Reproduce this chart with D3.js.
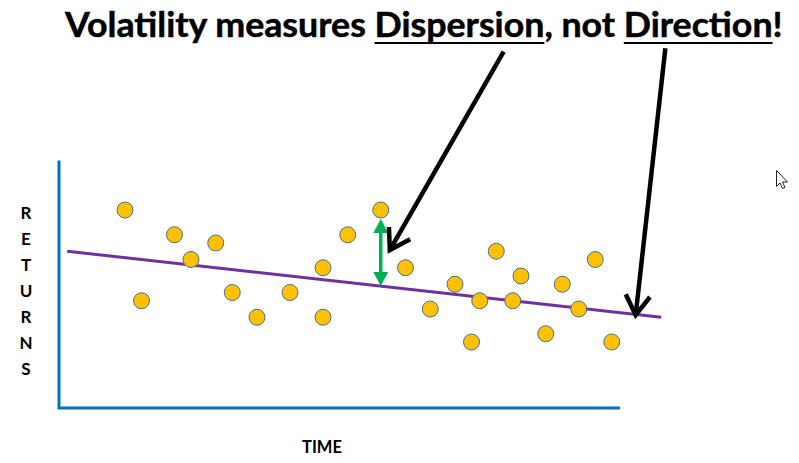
<!DOCTYPE html>
<html><head><meta charset="utf-8">
<script src="https://cdn.jsdelivr.net/npm/d3@7"></script>
<style>html,body{margin:0;padding:0;background:#fff;overflow:hidden}</style>
</head><body>
<script>
// ---- data (time index, return level) ----
const times   = [0,2,6,8,11,13,16,20,24,24,27,31,34,37,40,42,43,45,47,48,51,53,55,57,59];
const returns = [16,5,13,10,12,6,3,6,9,3,13,16,9,4,7,0,5,11,5,8,1,7,4,10,0];
const trendT  = [-7, 65];
const trendR  = [11, 3];
const spreadT = 31;          // green arrow location
const spreadTop = 14.9;
const arrowFromT = [45.9, 65.5];
const arrowFromR = [35.2, 35.6];
const arrowToT   = [32.1, 61.9];
const arrowToR   = [11.15, 3.27];
const titleParts = [["Volatility measures ", false], ["Dispersion", true], [", not ", false], ["Direction", true], ["!", false]];
const yLabel = "RETURNS";
const xLabel = "TIME";

const W = 799, H = 463;
const svg = d3.select("body").append("svg").attr("width", W).attr("height", H);

const x = d3.scaleLinear().domain([-8, 60]).range([59, 620]);
const y = d3.scaleLinear().domain([-8, 22]).range([408, 160.5]);

// axes (L shape)
svg.append("path")
  .attr("d", `M${x(-8)},${y(22)} L${x(-8)},${y(-8)} L${x(60)},${y(-8)}`)
  .attr("fill", "none").attr("stroke", "#0070C0").attr("stroke-width", 3);

// trend line
const tline = d3.line().x(d => x(d[0])).y(d => y(d[1]));
svg.append("path").attr("d", tline(trendT.map((t, i) => [t, trendR[i]])))
  .attr("fill", "none").attr("stroke", "#7030A0").attr("stroke-width", 3);

// points
svg.append("g").selectAll("circle").data(times.map((t, i) => [t, returns[i]])).join("circle")
  .attr("cx", d => x(d[0])).attr("cy", d => y(d[1])).attr("r", 8)
  .attr("fill", "#FFC000").attr("stroke", "#41719C").attr("stroke-width", 1);

// green double arrow
const trendAt = t => trendR[0] + (trendR[1] - trendR[0]) * (t - trendT[0]) / (trendT[1] - trendT[0]);
const gx = x(spreadT), gy1 = y(spreadTop), gy2 = y(trendAt(spreadT));
const green = "#00B050";
svg.append("line").attr("x1", gx).attr("x2", gx).attr("y1", gy1 + 10).attr("y2", gy2 - 10)
  .attr("stroke", green).attr("stroke-width", 3.5);
svg.append("path").attr("d", `M${gx},${gy1} L${gx - 7.5},${gy1 + 14} L${gx + 7.5},${gy1 + 14} Z`).attr("fill", green);
svg.append("path").attr("d", `M${gx},${gy2} L${gx - 7.5},${gy2 - 14} L${gx + 7.5},${gy2 - 14} Z`).attr("fill", green);

// black annotation arrows
arrowFromT.forEach((t, i) => {
  const x1 = x(t), y1 = y(arrowFromR[i]), x2 = x(arrowToT[i]), y2 = y(arrowToR[i]);
  const ang = Math.atan2(y1 - y2, x1 - x2);
  const L = 23, a = 32 * Math.PI / 180;
  const p1 = [x2 + L * Math.cos(ang - a), y2 + L * Math.sin(ang - a)];
  const p2 = [x2 + L * Math.cos(ang + a), y2 + L * Math.sin(ang + a)];
  svg.append("line").attr("x1", x1).attr("y1", y1).attr("x2", x2).attr("y2", y2)
    .attr("stroke", "#000").attr("stroke-width", 4.5);
  svg.append("path").attr("d", `M${p1[0]},${p1[1]} L${x2},${y2} L${p2[0]},${p2[1]}`)
    .attr("fill", "none").attr("stroke", "#000").attr("stroke-width", 4.5)
    .attr("stroke-linejoin", "miter").attr("stroke-linecap", "butt");
});

// title
const tg = svg.append("g");
const title = tg.append("text").attr("x", 0).attr("y", 0)
  .attr("font-family", "Lato, 'Open Sans', sans-serif").attr("font-weight", 700)
  .attr("font-size", 34).attr("fill", "#000")
  .attr("stroke", "#000").attr("stroke-width", 0.5);
titleParts.forEach(p => title.append("tspan").text(p[0]));
const full = title.node().getComputedTextLength();
const targetW = 718, sx = targetW / full;
tg.attr("transform", `translate(65,37) scale(${sx},1)`);
let idx = 0;
titleParts.forEach(p => {
  if (p[1]) {
    const start = idx === 0 ? 0 : title.node().getSubStringLength(0, idx);
    const len = title.node().getSubStringLength(idx, p[0].length);
    svg.append("line").attr("x1", 65 + start * sx).attr("x2", 65 + (start + len) * sx)
      .attr("y1", 43).attr("y2", 43).attr("stroke", "#000").attr("stroke-width", 2);
  }
  idx += p[0].length;
});

// y label (stacked letters)
svg.append("g").selectAll("text").data(yLabel.split("")).join("text")
  .attr("x", 26).attr("y", (d, i) => 219 + i * 26)
  .attr("text-anchor", "middle")
  .attr("font-family", "Lato, 'Open Sans', sans-serif").attr("font-weight", 700)
  .attr("font-size", 17).attr("fill", "#000").text(d => d);

// x label
svg.append("text").attr("x", 322).attr("y", 453).attr("text-anchor", "middle")
  .attr("font-family", "Lato, 'Open Sans', sans-serif").attr("font-weight", 700)
  .attr("font-size", 16.5).attr("fill", "#000").text(xLabel);

// mouse cursor
svg.append("path")
  .attr("d", "M776.5,170.5 L776.5,186.5 L780,183 L782.5,188.5 L785,187.5 L782.5,182 L787.5,182 Z")
  .attr("fill", "#fff").attr("stroke", "#222").attr("stroke-width", 1);
</script>
</body></html>
